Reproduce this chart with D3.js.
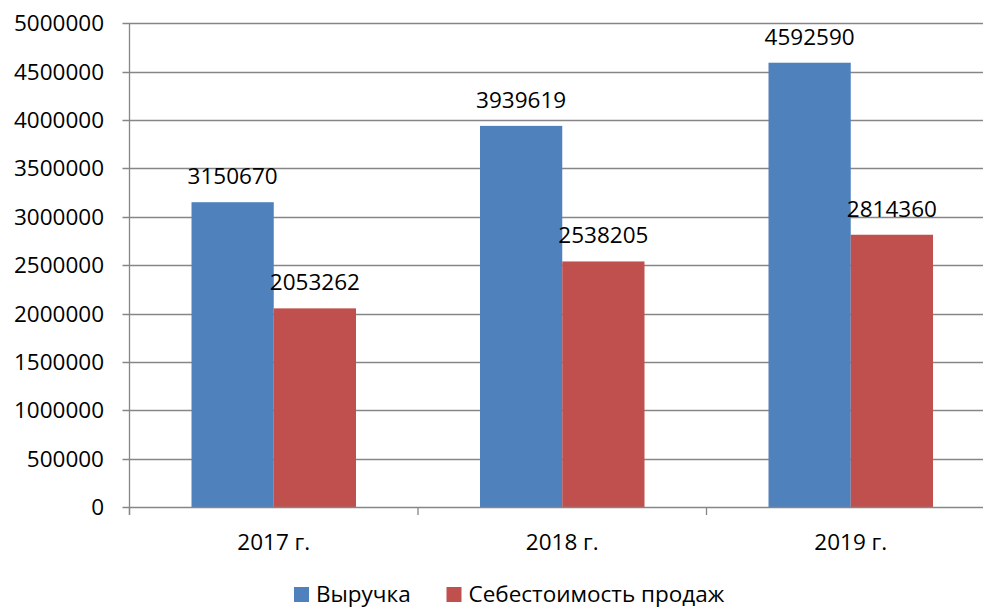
<!DOCTYPE html>
<html>
<head>
<meta charset="utf-8">
<script src="https://cdn.jsdelivr.net/npm/d3@7"></script>
<style>
  body { margin: 0; background: #fff; }
  svg { display: block; font-family: "Open Sans", "Noto Sans", sans-serif; }
  text { fill: #000; }
</style>
</head>
<body>
<svg width="983" height="609"></svg>
<script>
  const years = ['2017 г.', '2018 г.', '2019 г.'];
  const seriesNames = ['Выручка', 'Себестоимость продаж'];
  const revenue = [3150670, 3939619, 4592590];
  const cost = [2053262, 2538205, 2814360];
  const colors = ['#4F81BD', '#C0504D'];
  const yTicks = [0, 500000, 1000000, 1500000, 2000000, 2500000, 3000000, 3500000, 4000000, 4500000, 5000000];

  const rows = years.map((y, i) => ({ year: y, values: [revenue[i], cost[i]] }));

  const svg = d3.select('svg');
  const plotLeft = 129.5, plotRight = 995, plotTop = 23.3, plotBottom = 507;
  const gridColor = '#868686';

  const y = d3.scaleLinear().domain([0, 5000000]).range([plotBottom, plotTop]);
  const x0 = d3.scaleBand().domain(years).range([plotLeft, plotRight]).padding(0);
  const x1 = d3.scaleBand().domain(d3.range(seriesNames.length))
    .range([0, x0.bandwidth()]).paddingInner(0).paddingOuter(0.754);

  // gridlines
  svg.append('g')
    .selectAll('line')
    .data(yTicks.filter(d => d > 0))
    .join('line')
      .attr('x1', plotLeft - 7).attr('x2', plotRight)
      .attr('y1', d => Math.round(y(d)) + 0.5).attr('y2', d => Math.round(y(d)) + 0.5)
      .attr('stroke', gridColor).attr('stroke-width', 1.3);

  // bars
  const groups = svg.append('g')
    .selectAll('g')
    .data(rows)
    .join('g')
      .attr('transform', d => `translate(${x0(d.year)},0)`);

  groups.selectAll('rect')
    .data(d => d.values)
    .join('rect')
      .attr('x', (d, i) => x1(i))
      .attr('width', x1.bandwidth())
      .attr('y', d => y(d))
      .attr('height', d => y(0) - y(d))
      .attr('fill', (d, i) => colors[i]);

  groups.selectAll('text')
    .data(d => d.values)
    .join('text')
      .attr('x', (d, i) => x1(i) + x1.bandwidth() / 2)
      .attr('y', d => y(d) - 18)
      .attr('text-anchor', 'middle')
      .attr('font-size', 22.5)
      .text(d => d);

  // y axis
  const yAxis = svg.append('g');
  yAxis.append('line')
    .attr('x1', plotLeft).attr('x2', plotLeft).attr('y1', plotTop).attr('y2', plotBottom + 8)
    .attr('stroke', gridColor).attr('stroke-width', 1.3);
  yAxis.selectAll('text')
    .data(yTicks)
    .join('text')
      .attr('x', 104)
      .attr('y', d => y(d) + 8)
      .attr('text-anchor', 'end')
      .attr('font-size', 22.5)
      .text(d => d);

  // x axis
  const xAxis = svg.append('g');
  xAxis.append('line')
    .attr('x1', plotLeft - 7).attr('x2', plotRight)
    .attr('y1', Math.round(y(0)) + 0.5).attr('y2', Math.round(y(0)) + 0.5)
    .attr('stroke', gridColor).attr('stroke-width', 1.3);
  xAxis.selectAll('line.tick')
    .data(years.map(d => x0(d)).concat([plotRight]))
    .join('line')
      .attr('class', 'tick')
      .attr('x1', d => d).attr('x2', d => d)
      .attr('y1', plotBottom).attr('y2', plotBottom + 8)
      .attr('stroke', gridColor).attr('stroke-width', 1.3);
  xAxis.selectAll('text')
    .data(years)
    .join('text')
      .attr('x', d => x0(d) + x0.bandwidth() / 2)
      .attr('y', 550)
      .attr('text-anchor', 'middle')
      .attr('font-size', 22.5)
      .text(d => d);

  // legend (kept just inside the bottom edge)
  const legendX = [294, 446.5];
  const legend = svg.append('g')
    .selectAll('g')
    .data(seriesNames)
    .join('g')
      .attr('transform', (d, i) => `translate(${legendX[i]},587)`);
  legend.append('rect')
    .attr('width', 15).attr('height', 15)
    .attr('fill', (d, i) => colors[i]);
  legend.append('text')
    .attr('x', 22).attr('y', 15)
    .attr('font-size', 22.5)
    .text(d => d);
</script>
</body>
</html>
